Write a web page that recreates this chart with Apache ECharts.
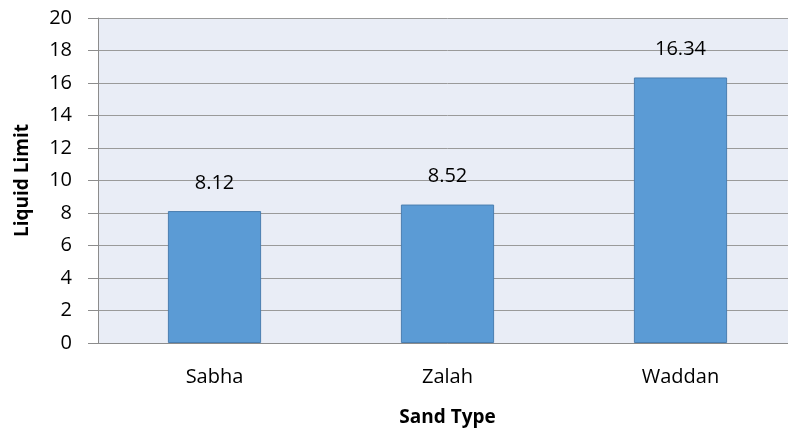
<!DOCTYPE html>
<html>
<head>
<meta charset="utf-8">
<script src="https://cdn.jsdelivr.net/npm/echarts@6/dist/echarts.min.js"></script>
<style>
  html, body { margin: 0; padding: 0; background: #fff; overflow: hidden; }
  #chart { width: 797px; height: 433px; }
</style>
</head>
<body>
<div id="chart"></div>
<script>
var sandTypes = ['Sabha', 'Zalah', 'Waddan'];
var liquidLimit = [8.12, 8.52, 16.34];

var myChart = echarts.init(document.getElementById('chart'));
var chartOption = {
    animation: false,
    textStyle: { fontFamily: 'Open Sans' },
    grid: {
        left: 98,
        right: 0,
        top: 18,
        bottom: 90,
        outerBoundsMode: 'none',
        containLabel: false,
        show: true,
        backgroundColor: '#e9edf6',
        borderWidth: 0
    },
    xAxis: {
        type: 'category',
        data: sandTypes,
        name: 'Sand Type',
        nameLocation: 'middle',
        nameGap: 65,
        nameTextStyle: { fontSize: 19, fontWeight: 'bold', color: '#000' },
        axisLine: { lineStyle: { color: '#8c8c8c' } },
        axisTick: { show: false },
        axisLabel: { fontSize: 20, color: '#000', margin: 24 }
    },
    yAxis: {
        type: 'value',
        min: 0,
        max: 20,
        interval: 2,
        name: 'Liquid Limit',
        nameLocation: 'middle',
        nameGap: 66,
        nameTextStyle: { fontSize: 19, fontWeight: 'bold', color: '#000' },
        axisLine: { show: true, lineStyle: { color: '#8c8c8c' } },
        axisTick: { show: true, length: 10, inside: false, lineStyle: { color: '#8c8c8c' } },
        axisLabel: { fontSize: 20, color: '#000', margin: 26 },
        splitLine: { lineStyle: { color: '#9a9a9a', width: 1 } }
    },
    series: [{
        type: 'bar',
        data: liquidLimit,
        barWidth: '40%',
        itemStyle: { color: '#5b9bd5', borderColor: '#4a7eb0', borderWidth: 1 },
        label: { show: true, position: 'top', distance: 18, fontSize: 20, color: '#000' }
    }]
};
myChart.setOption(chartOption);
</script>
</body>
</html>
